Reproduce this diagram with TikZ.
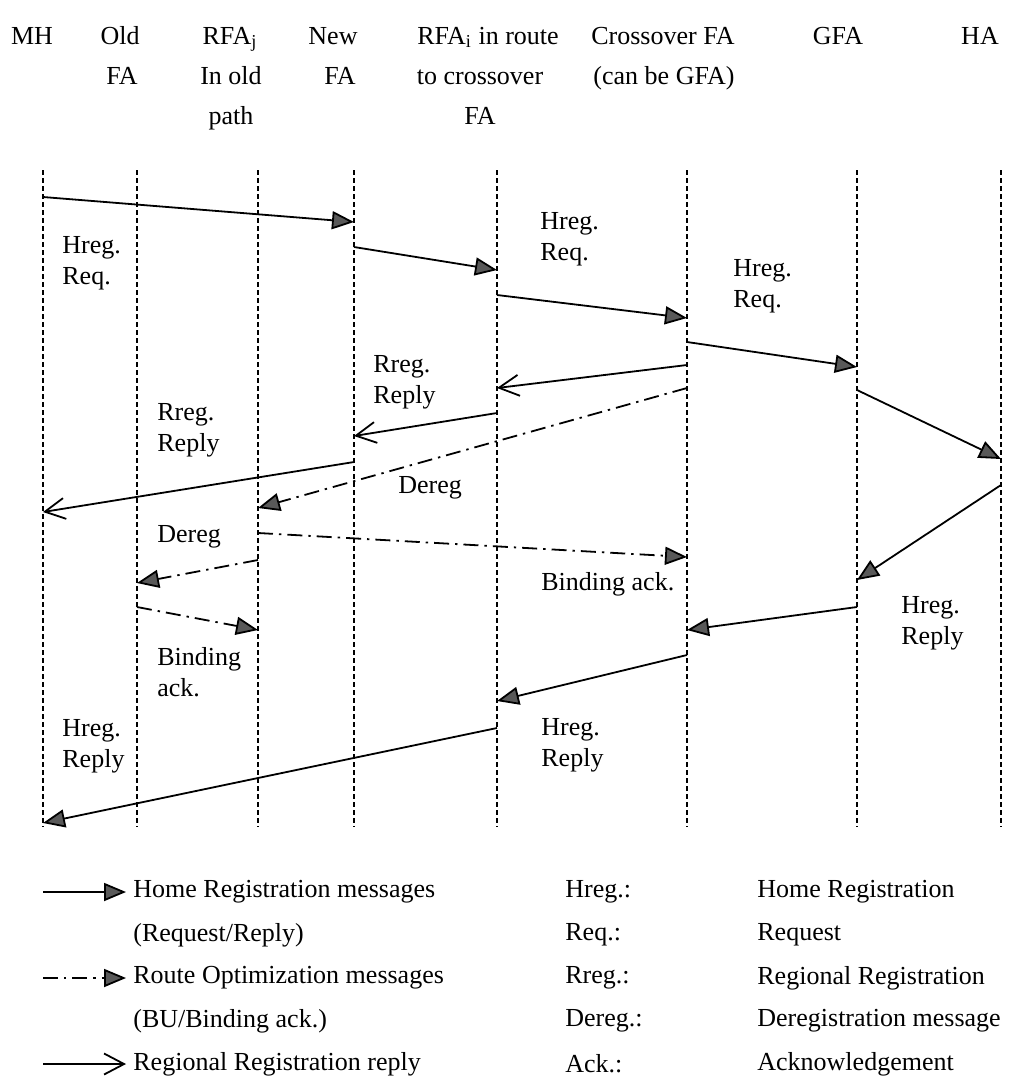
\documentclass[tikz,border=0pt]{standalone}
\usepackage{fontspec}
\setmainfont{Liberation Serif}
\usetikzlibrary{arrows.meta}
\begin{document}
\begin{tikzpicture}[x=0.5pt,y=-0.5pt,
  every node/.style={font=\fontsize{13}{15.5}\selectfont, inner sep=0pt},
  head/.style={anchor=center, text height=9pt, text depth=3pt},
  lbl/.style={anchor=west, align=left},
  lifeline/.style={line width=0.85pt, dash pattern=on 2.5pt off 1.5pt},
  hreg/.style={line width=0.9pt, -{Triangle[length=11pt,width=9pt,fill=black!65]}},
  rreg/.style={line width=0.9pt, -{Straight Barb[length=10pt,width=10.5pt]}},
  ropt/.style={line width=0.9pt, dash pattern=on 7.5pt off 3pt on 1.2pt off 3pt,
               -{Triangle[length=11pt,width=9pt,fill=black!65]}}]
\useasboundingbox (0,0) rectangle (1016,1083);

% entity headings
\node[head] (h-mh)   at (32,38)  {MH};
\node[head] (h-ofa)  at (120,38) {Old};
\node[head] (h-rfaj) at (230,38) {RFA\textsubscript{j}};
\node[head] (h-nfa)  at (333,38) {New};
\node[head] (h-rfai) at (488,38) {RFA\textsubscript{i} in route};
\node[head] (h-cfa)  at (663,38) {Crossover FA};
\node[head] (h-gfa)  at (838,38) {GFA};
\node[head] (h-ha)   at (980,38) {HA};
\node[head] (h-ofa2)  at (122,78) {FA};
\node[head] (h-rfaj2) at (231,78) {In old};
\node[head] (h-nfa2)  at (340,78) {FA};
\node[head] (h-rfai2) at (480,78) {to crossover};
\node[head] (h-cfa2)  at (664,78) {(can be GFA)};
\node[head] (h-rfaj3) at (231,118) {path};
\node[head] (h-rfai3) at (480,118) {FA};

% lifelines
\foreach \n/\x in {mh/43, ofa/137, rfaj/258, nfa/354, rfai/497, cfa/687, gfa/857, ha/1001} {
  \coordinate (\n-t) at (\x,170);
  \coordinate (\n-b) at (\x,827);
  \draw[lifeline] (\n-t) -- (\n-b);
}

% message end points on the lifelines
\foreach \p/\x/\y in {
  m1a/43/197,  m1b/354/222,
  m2a/354/247, m2b/497/270,
  m3a/497/295, m3b/687/318,
  m4a/687/342, m4b/857/367,
  m5a/857/390, m5b/1001/459,
  m6a/687/365, m6b/497/388,
  m7a/497/413, m7b/354/436,
  m8a/354/462, m8b/43/512,
  m9a/687/388, m9b/258/508,
  m10a/258/533, m10b/687/557,
  m11a/258/560, m11b/137/583,
  m12a/137/607, m12b/258/630,
  m13a/1001/485, m13b/857/580,
  m14a/857/607, m14b/687/630,
  m15a/687/655, m15b/497/701,
  m16a/497/728, m16b/43/823}
  \coordinate (\p) at (\x,\y);

% home registration request / reply
\draw[hreg] (m1a) -- (m1b);
\draw[hreg] (m2a) -- (m2b);
\draw[hreg] (m3a) -- (m3b);
\draw[hreg] (m4a) -- (m4b);
\draw[hreg] (m5a) -- (m5b);
\draw[hreg] (m13a) -- (m13b);
\draw[hreg] (m14a) -- (m14b);
\draw[hreg] (m15a) -- (m15b);
\draw[hreg] (m16a) -- (m16b);
% regional registration reply
\draw[rreg] (m6a) -- (m6b);
\draw[rreg] (m7a) -- (m7b);
\draw[rreg] (m8a) -- (m8b);
% route optimization
\draw[ropt] (m9a) -- (m9b);
\draw[ropt] (m10a) -- (m10b);
\draw[ropt] (m11a) -- (m11b);
\draw[ropt] (m12a) -- (m12b);

% message labels
\node[lbl] (l1)  at (62,263)  {Hreg.\\Req.};
\node[lbl] (l2)  at (540,239) {Hreg.\\Req.};
\node[lbl] (l3)  at (733,286) {Hreg.\\Req.};
\node[lbl] (l4)  at (373,382) {Rreg.\\Reply};
\node[lbl] (l5)  at (157,430) {Rreg.\\Reply};
\node[lbl] (l6)  at (398,488) {Dereg};
\node[lbl] (l7)  at (157,537) {Dereg};
\node[lbl] (l8)  at (541,584) {Binding ack.};
\node[lbl] (l9)  at (157,672) {Binding\\ack.};
\node[lbl] (l10) at (62,746)  {Hreg.\\Reply};
\node[lbl] (l11) at (901,623) {Hreg.\\Reply};
\node[lbl] (l12) at (541,745) {Hreg.\\Reply};

% legend
\coordinate (k1a) at (43,892);  \coordinate (k1b) at (126,892);
\coordinate (k2a) at (43,978);  \coordinate (k2b) at (126,978);
\coordinate (k3a) at (43,1064); \coordinate (k3b) at (126,1064);
\draw[hreg] (k1a) -- (k1b);
\draw[ropt] (k2a) -- (k2b);
\draw[rreg] (k3a) -- (k3b);
\node[lbl] (t1) at (133,892)  {Home Registration messages};
\node[lbl] (t2) at (133,935)  {(Request/Reply)};
\node[lbl] (t3) at (133,978)  {Route Optimization messages};
\node[lbl] (t4) at (133,1021) {(BU/Binding ack.)};
\node[lbl] (t5) at (133,1064) {Regional Registration reply};

\node[lbl] (a1) at (565,892)  {Hreg.:};
\node[lbl] (a2) at (565,935)  {Req.:};
\node[lbl] (a3) at (565,978)  {Rreg.:};
\node[lbl] (a4) at (565,1021) {Dereg.:};
\node[lbl] (a5) at (565,1064) {Ack.:};
\node[lbl] (d1) at (757,892)  {Home Registration};
\node[lbl] (d2) at (757,935)  {Request};
\node[lbl] (d3) at (757,978)  {Regional Registration};
\node[lbl] (d4) at (757,1021) {Deregistration message};
\node[lbl] (d5) at (757,1064) {Acknowledgement};
\end{tikzpicture}
\end{document}
